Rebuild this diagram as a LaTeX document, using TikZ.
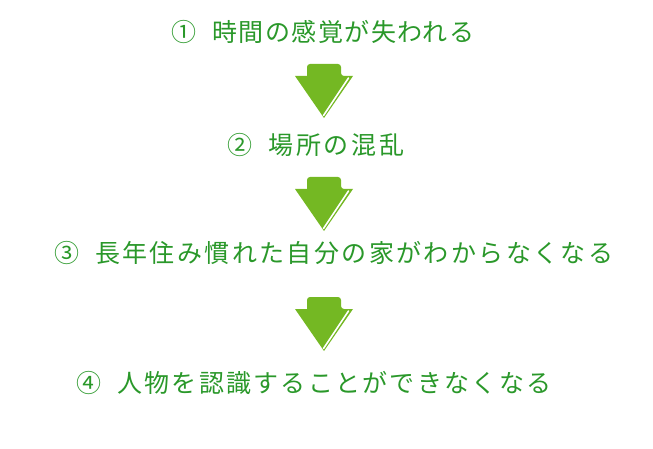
\documentclass[tikz,border=0pt]{standalone}
\usepackage{fontspec}
\setmainfont{Noto Sans CJK JP}
\newfontfamily\jpfont{Noto Sans CJK JP}
\definecolor{txtgreen}{RGB}{42,152,42}
\definecolor{arrgreen}{RGB}{116,184,35}
\begin{document}
\begin{tikzpicture}[x=1pt,y=-1pt,
  stepline/.style={text=txtgreen,font=\jpfont\fontsize{25}{25}\selectfont,inner sep=0pt,anchor=west},
  pics/downarrow/.style={code={
    \fill[arrgreen,rounded corners=3pt] (-17,12) -- (-17,0) -- (17,0) -- (17,12) [sharp corners] -- (29,12) -- (0,54) -- (-29,12) -- cycle;
    \draw[white,line width=1.6pt,line cap=round] (24.5,14) -- (-0.5,51.5);
  }}]
\useasboundingbox (0,0) rectangle (653,449);
\node[stepline] (s1) at (171,32) {\addfontfeatures{LetterSpace=6.0}①\hspace{16pt}時間の感覚が失われる};
\node[stepline] (s2) at (227,145) {\addfontfeatures{LetterSpace=11.5}②\hspace{16pt}場所の混乱};
\node[stepline] (s3) at (54,253) {\addfontfeatures{LetterSpace=9.6}③\hspace{16pt}長年住み慣れた自分の家がわからなくなる};
\node[stepline] (s4) at (76,383) {\addfontfeatures{LetterSpace=9.1}④\hspace{16pt}人物を認識することができなくなる};
\pic at (324,64) {downarrow};
\pic at (324,177) {downarrow};
\pic at (324,297) {downarrow};
\end{tikzpicture}
\end{document}
